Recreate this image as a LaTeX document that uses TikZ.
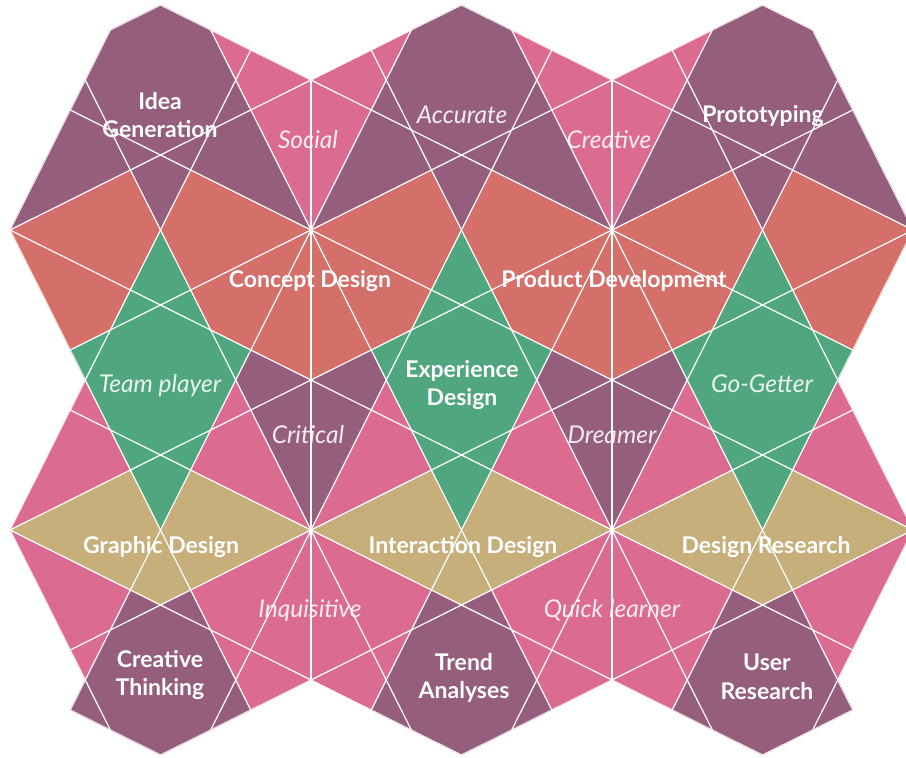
\documentclass[tikz,border=0pt]{standalone}
\usepackage{fontspec}
\setmainfont{Lato}
\definecolor{cmauve}{HTML}{965E7D}
\definecolor{cpink}{HTML}{DC6B91}
\definecolor{cred}{HTML}{D56F6A}
\definecolor{cgreen}{HTML}{4FA67F}
\definecolor{ctan}{HTML}{C6AF7A}
\begin{document}
\begin{tikzpicture}[x=1pt,y=-1pt,
  boldlbl/.style={text=white,anchor=base,inner sep=0pt,font=\bfseries\fontsize{23}{26}\selectfont},
  itallbl/.style={text=white,text opacity=0.88,anchor=base,inner sep=0pt,font=\itshape\fontsize{24.5}{26}\selectfont},
  wline/.style={white,line width=1.2pt}]
\useasboundingbox (0,0) rectangle (906,758);
\clip (0,0) rectangle (906,758);
\begin{scope}[shift={(10pt,-230pt)},x=75.25pt,y=-75pt]
  \def\outline{(0,0) -- (1.3333,-2.6667) -- (2,-3) -- (2.6667,-2.6667) -- (4,-2) -- (5.3333,-2.6667) -- (6,-3) -- (6.6667,-2.6667) -- (8,-2) -- (9.3333,-2.6667) -- (10,-3) -- (10.6667,-2.6667) -- (12,0) -- (11,2) -- (12,4) -- (11,6) -- (11.2,6.4) -- (10,7) -- (8.8,6.4) -- (8,6) -- (7.2,6.4) -- (6,7) -- (4.8,6.4) -- (4,6) -- (3.2,6.4) -- (2,7) -- (0.8,6.4) -- (1,6) -- (0,4) -- (1,2) -- cycle}
  \fill[cpink] \outline;
  % top mauve
  \foreach \c in {2,6,10}
    \fill[cmauve] (\c-2,0) -- (\c-0.6667,-2.6667) -- (\c,-3) -- (\c+0.6667,-2.6667) -- (\c+2,0) -- (\c+0.4,-0.8) -- (\c,0) -- (\c-0.4,-0.8) -- cycle;
  % red
  \fill[cred] (0,0) -- (1.6,-0.8) -- (2,0) -- (1.3333,1.3333) -- (0.8,1.6) -- cycle;
  \foreach \k in {4,8}
    \fill[cred] (\k-2,0) -- (\k-1.6,-0.8) -- (\k,0) -- (\k+1.6,-0.8) -- (\k+2,0) -- (\k+1.3333,1.3333) -- (\k,2) -- (\k-1.3333,1.3333) -- cycle;
  \fill[cred] (12,0) -- (10.4,-0.8) -- (10,0) -- (10.6667,1.3333) -- (11.2,1.6) -- cycle;
  % green
  \foreach \c in {2,6,10}
    \fill[cgreen] (\c,0) -- (\c+0.6667,1.3333) -- (\c+1.2,1.6) -- (\c+1,2) -- (\c+0.4,3.2) -- (\c,4) -- (\c-0.4,3.2) -- (\c-1,2) -- (\c-1.2,1.6) -- (\c-0.6667,1.3333) -- cycle;
  % middle mauve
  \foreach \k in {4,8}
    \fill[cmauve] (\k-1,2) -- (\k-0.8,1.6) -- (\k,2) -- (\k+0.8,1.6) -- (\k+1,2) -- (\k,4) -- cycle;
  % tan
  \foreach \c in {2,6,10}
    \fill[ctan] (\c-2,4) -- (\c-0.4,3.2) -- (\c,4) -- (\c+0.4,3.2) -- (\c+2,4) -- (\c,5) -- cycle;
  % bottom mauve
  \foreach \c in {2,6,10}
    \fill[cmauve] (\c,5) -- (\c+0.4,4.8) -- (\c+1.2,6.4) -- (\c,7) -- (\c-1.2,6.4) -- (\c-0.4,4.8) -- cycle;
  % white lines
  \begin{scope}
    \clip \outline;
    \foreach \c in {-8,-6,...,6}
      \draw[wline] (-1,{-0.5+\c}) -- (13,{6.5+\c});
    \foreach \c in {-2,0,...,12}
      \draw[wline] (-1,{0.5+\c}) -- (13,{-6.5+\c});
    \foreach \c in {-28,-24,...,8}
      \draw[wline] ({(-4-\c)/2},-4) -- ({(8-\c)/2},8);
    \foreach \c in {-4,0,...,32}
      \draw[wline] ({(\c+4)/2},-4) -- ({(\c-8)/2},8);
    \draw[wline] (4,-4) -- (4,8);
    \draw[wline] (8,-4) -- (8,8);
  \end{scope}
\end{scope}
% labels
\node[boldlbl] (idea1) at (160,109) {Idea};
\node[boldlbl] (idea2) at (160,137) {Generation};
\node[itallbl] (social) at (308,148) {Social};
\node[itallbl] (accurate) at (462,123) {Accurate};
\node[itallbl] (creative) at (609,148) {Creative};
\node[boldlbl] (proto) at (763,122) {Prototyping};
\node[boldlbl] (concept) at (310,287) {Concept Design};
\node[boldlbl] (product) at (614,287) {Product Development};
\node[itallbl] (team) at (160,392) {Team player};
\node[boldlbl] (exp1) at (462,377) {Experience};
\node[boldlbl] (exp2) at (462,405) {Design};
\node[itallbl] (gogetter) at (762,392) {Go-Getter};
\node[itallbl] (critical) at (308,443) {Critical};
\node[itallbl] (dreamer) at (612,443) {Dreamer};
\node[boldlbl] (graphic) at (161,553) {Graphic Design};
\node[boldlbl] (interaction) at (463,553) {Interaction Design};
\node[boldlbl] (research) at (766,553) {Design Research};
\node[itallbl] (inquisitive) at (310,617) {Inquisitive};
\node[itallbl] (quick) at (612,617) {Quick learner};
\node[boldlbl] (ct1) at (160,667) {Creative};
\node[boldlbl] (ct2) at (160,695) {Thinking};
\node[boldlbl] (ta1) at (464,670) {Trend};
\node[boldlbl] (ta2) at (464,698) {Analyses};
\node[boldlbl] (ur1) at (767,670) {User};
\node[boldlbl] (ur2) at (767,699) {Research};
\end{tikzpicture}
\end{document}
